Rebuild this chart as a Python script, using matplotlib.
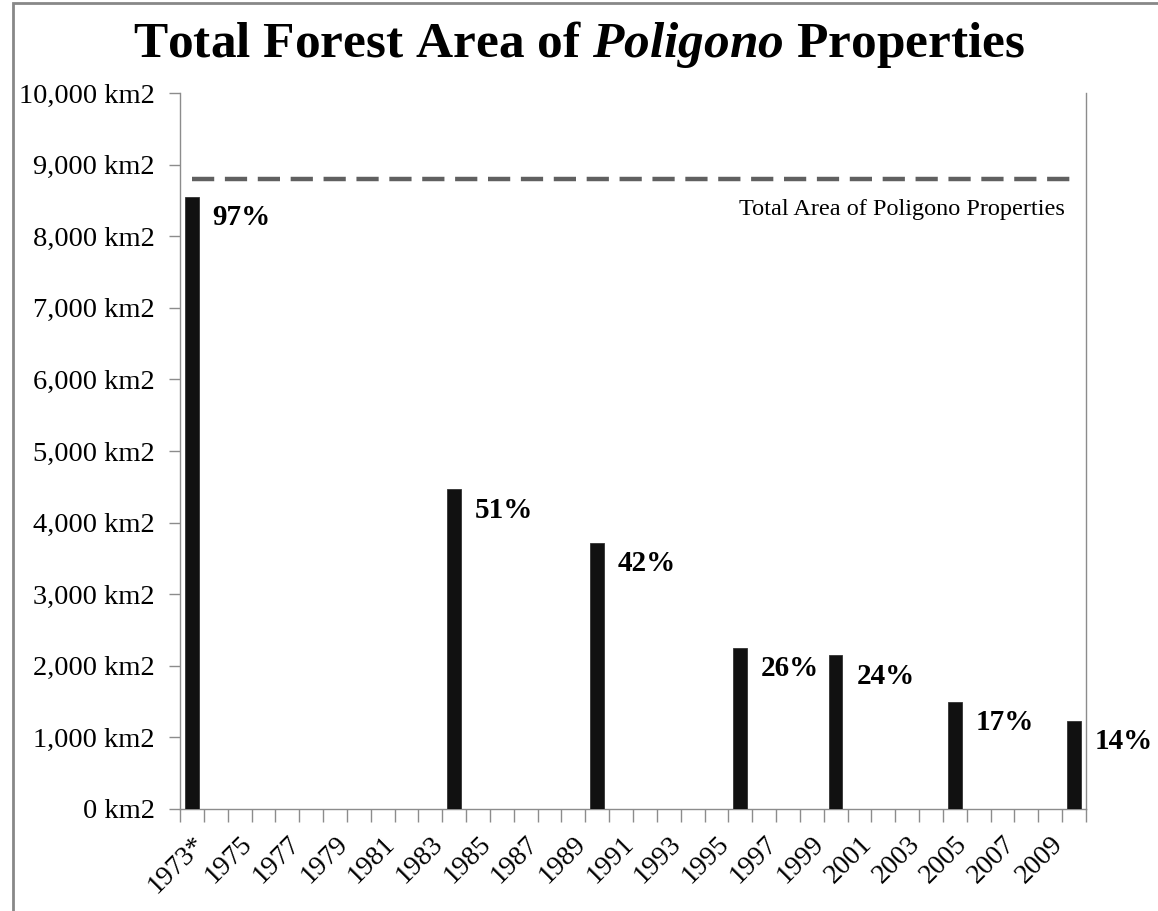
import matplotlib
matplotlib.use("Agg")
import matplotlib.pyplot as plt
from matplotlib.patches import Rectangle
import numpy as np

# data
years = list(range(1973, 2011))
bar_years = [1973, 1984, 1990, 1996, 2000, 2005, 2010]
forest_km2 = [8550, 4465, 3720, 2250, 2150, 1495, 1230]
pct_labels = ["97%", "51%", "42%", "26%", "24%", "17%", "14%"]
total_area = 8800
yticks = [0, 1000, 2000, 3000, 4000, 5000, 6000, 7000, 8000, 9000, 10000]

plt.rcParams["font.family"] = ["Liberation Serif", "DejaVu Serif"]
plt.rcParams["mathtext.fontset"] = "custom"
plt.rcParams["mathtext.rm"] = "Liberation Serif:bold"
plt.rcParams["mathtext.it"] = "Liberation Serif:italic:bold"

fig = plt.figure(figsize=(11.58, 9.11), dpi=100)
ax = fig.add_axes([180 / 1158, 1 - 809 / 911, 906 / 1158, 716 / 911])

gray = "#8c8c8c"
idx = [years.index(y) for y in bar_years]
ax.bar(idx, forest_km2, width=0.57, color="#111111", edgecolor="#333333", linewidth=0.6, zorder=3)

# dashed total line across the categories
ax.plot([0, len(years) - 1], [total_area, total_area], color="#606060", lw=3.2,
        dashes=(5.0, 2.4), solid_capstyle="butt", dash_capstyle="butt", zorder=2)
ax.annotate("Total Area of Poligono Properties", xy=(0.977, total_area),
            xycoords=("axes fraction", "data"), xytext=(0, -31), textcoords="offset pixels",
            ha="right", va="center", fontsize=17.5)

for i, v, lab in zip(idx, forest_km2, pct_labels):
    ax.annotate(lab, xy=(i + 0.285, v), xytext=(14, -21), textcoords="offset pixels",
                ha="left", va="center", fontsize=21, fontweight="bold", annotation_clip=False)

ax.set_xlim(-0.5, len(years) - 0.5)
ax.set_ylim(0, 10000)

ax.set_yticks(yticks)
ax.set_yticklabels([f"{t:,} km2" for t in yticks], fontsize=20.5)

# labels at every other category centre, ticks at category boundaries
lab_pos = list(range(0, len(years) - 1, 2))
xlabels = [f"{years[p]}*" if p == 0 else str(years[p]) for p in lab_pos]
ax.set_xticks(lab_pos)
ax.set_xticklabels(xlabels, fontsize=20, rotation=45, ha="right", rotation_mode="anchor")
ax.set_xticks(np.arange(-0.5, len(years), 1.0), minor=True)
ax.tick_params(axis="x", which="major", length=0, pad=16)
ax.tick_params(axis="x", which="minor", length=9, width=1, color=gray)
ax.tick_params(axis="y", length=8, width=1, color=gray, pad=10)

ax.spines["top"].set_visible(False)
for s in ["left", "right", "bottom"]:
    ax.spines[s].set_color(gray)
    ax.spines[s].set_linewidth(1)

fig.text(0.5, 1 - 44 / 911, r"Total Forest Area of $\it{Poligono}$ Properties",
         ha="center", va="center", fontsize=37, fontweight="bold")

fig.patches.append(Rectangle((13 / 1158, -0.1), 2, 1.1 - 3 / 911, transform=fig.transFigure,
                             fill=False, edgecolor="#888888", linewidth=2))

fig.savefig("out.png", dpi=100)
